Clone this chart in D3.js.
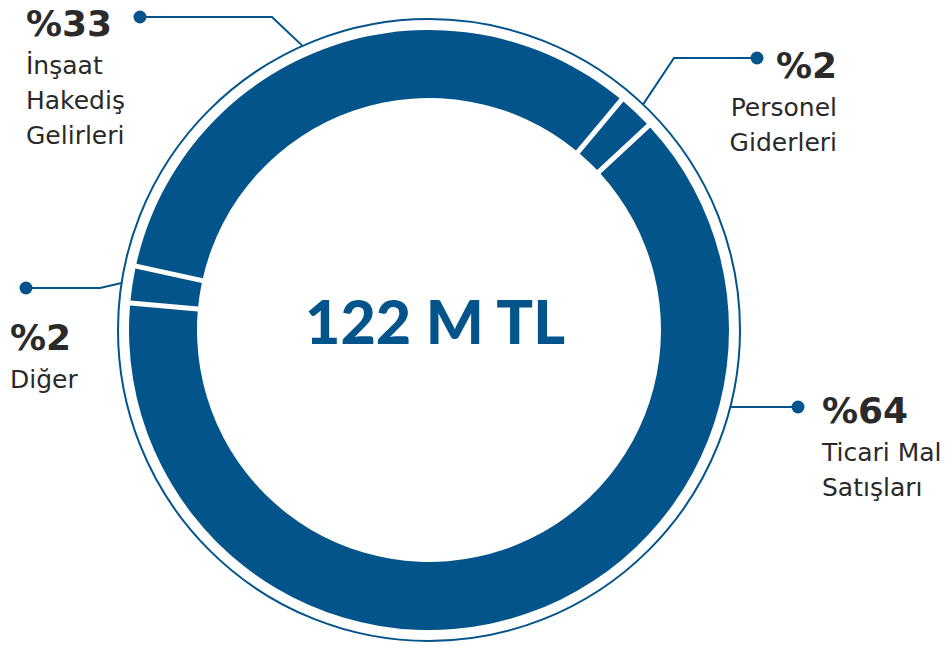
<!DOCTYPE html>
<html>
<head>
<meta charset="utf-8">
<script src="https://cdn.jsdelivr.net/npm/d3@7"></script>
<style>
  html, body { margin: 0; padding: 0; background: #fff; }
  svg { display: block; }
</style>
</head>
<body>
<div id="chart"></div>
<script>
// data
const categories = ["İnşaat Hakediş Gelirleri", "Personel Giderleri", "Ticari Mal Satışları", "Diğer"];
const shares = [33, 2, 64, 2];
const pctLabels = ["%33", "%2", "%64", "%2"];
const labelLines = [["İnşaat", "Hakediş", "Gelirleri"], ["Personel", "Giderleri"], ["Ticari Mal", "Satışları"], ["Diğer"]];
const totalLabel = "122 M TL";

// aes
let width = 950, height = 648,
    cx = 429, cy = 330,
    rOuter = 300, rInner = 232, rRing = 311,
    blue = "#02548a", ink = "#2a2a2a",
    font = "'DejaVu Sans', sans-serif";

// label layout (ring angle in degrees, elbow, dot, text anchor)
let layout = [
  { ang: -24,   elbow: [272, 17],  dot: [140, 17],  tx: 26,  ty: 36,  anchor: "start" },
  { ang: 43.5,  elbow: [674, 58],  dot: [757, 58],  tx: 837, ty: 78,  anchor: "end" },
  { ang: 104.5, elbow: null,       dot: [798, 407], tx: 822, ty: 423, anchor: "start" },
  { ang: 278.7, elbow: [100, 288], dot: [26, 288],  tx: 10,  ty: 350, anchor: "start" }
];

let svg = d3.select("#chart").append("svg")
  .attr("width", width)
  .attr("height", height)
  .attr("viewBox", `0 0 ${width} ${height}`);

let pie = d3.pie()
  .sort(null)
  .startAngle(-77.7 * Math.PI / 180)
  .endAngle(-77.7 * Math.PI / 180 + 2 * Math.PI);

let arc = d3.arc()
  .innerRadius(rInner)
  .outerRadius(rOuter)
  .padRadius(rOuter)
  .padAngle(5 / rOuter);

let g = svg.append("g").attr("transform", `translate(${cx},${cy})`);

g.selectAll("path.slice")
  .data(pie(shares))
  .enter().append("path")
  .attr("class", "slice")
  .attr("d", arc)
  .attr("fill", blue);

// thin outer ring
g.append("circle")
  .attr("r", rRing)
  .attr("fill", "none")
  .attr("stroke", blue)
  .attr("stroke-width", 2);

// centre total
svg.append("text")
  .attr("x", cx + 6)
  .attr("y", cy + 14)
  .attr("text-anchor", "middle")
  .attr("font-family", "Lato, sans-serif")
  .attr("font-weight", 900)
  .attr("font-size", 61)
  .attr("fill", blue)
  .text(totalLabel);

// leaders + labels
let ringPoint = a => {
  let r = a * Math.PI / 180;
  return [cx + rRing * Math.sin(r), cy - rRing * Math.cos(r)];
};

layout.forEach((l, i) => {
  let pts = [ringPoint(l.ang)];
  if (l.elbow) pts.push(l.elbow);
  pts.push(l.dot);
  if (!l.elbow) pts[0] = [pts[0][0], l.dot[1]];

  svg.append("path")
    .attr("d", d3.line()(pts))
    .attr("fill", "none")
    .attr("stroke", blue)
    .attr("stroke-width", 2);

  svg.append("circle")
    .attr("cx", l.dot[0])
    .attr("cy", l.dot[1])
    .attr("r", 6.5)
    .attr("fill", blue);

  let t = svg.append("text")
    .attr("x", l.tx)
    .attr("y", l.ty)
    .attr("text-anchor", l.anchor)
    .attr("font-family", font)
    .attr("fill", ink);

  t.append("tspan")
    .attr("x", l.tx)
    .attr("font-weight", 700)
    .attr("font-size", 36)
    .text(pctLabels[i]);

  labelLines[i].forEach((s, j) => {
    t.append("tspan")
      .attr("x", l.tx)
      .attr("dy", j == 0 ? 38 : 35)
      .attr("font-size", 25)
      .text(s);
  });
});
</script>
</body>
</html>
